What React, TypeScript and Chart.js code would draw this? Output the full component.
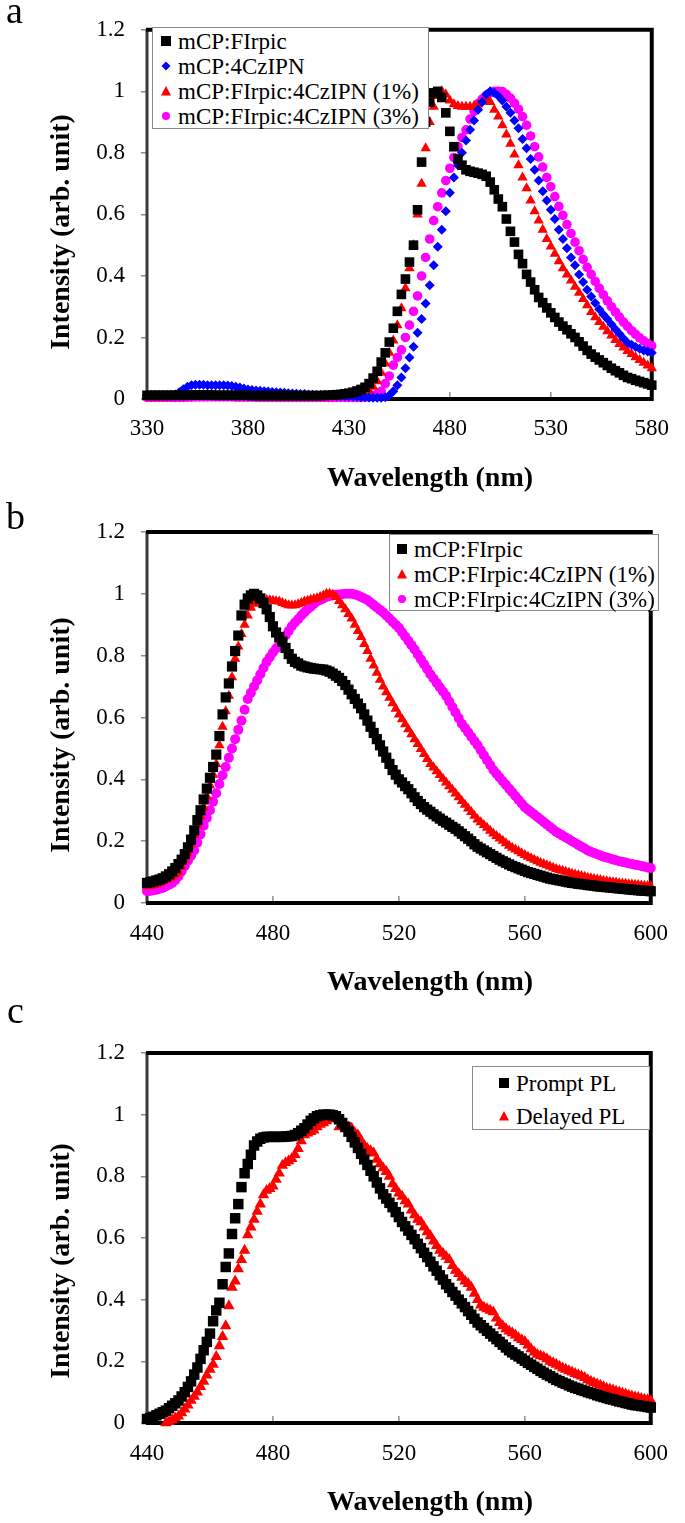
import React, { useEffect, useLayoutEffect, useRef } from 'react';
import { Chart, registerables } from 'chart.js';

Chart.register(...registerables);

const FONT = '"Liberation Serif", "Times New Roman", Times, serif';

// ---------- tick labels ----------
const Y_TICKS = [0, 0.2, 0.4, 0.6, 0.8, 1, 1.2];
const Y_TICK_LABELS = ['0', '0.2', '0.4', '0.6', '0.8', '1', '1.2'];
const X_TICKS_A = [330, 380, 430, 480, 530, 580];
const X_TICKS_BC = [440, 480, 520, 560, 600];

// ---------- wavelengths ----------
const WL_A = [
  330, 332, 334, 336, 338, 340, 342, 344, 346, 348,
  350, 352, 354, 356, 358, 360, 362, 364, 366, 368,
  370, 372, 374, 376, 378, 380, 382, 384, 386, 388,
  390, 392, 394, 396, 398, 400, 402, 404, 406, 408,
  410, 412, 414, 416, 418, 420, 422, 424, 426, 428,
  430, 432, 434, 436, 438, 440, 442, 444, 446, 448,
  450, 452, 454, 456, 458, 460, 462, 464, 466, 468,
  470, 472, 474, 476, 478, 480, 482, 484, 486, 488,
  490, 492, 494, 496, 498, 500, 502, 504, 506, 508,
  510, 512, 514, 516, 518, 520, 522, 524, 526, 528,
  530, 532, 534, 536, 538, 540, 542, 544, 546, 548,
  550, 552, 554, 556, 558, 560, 562, 564, 566, 568,
  570, 572, 574, 576, 578, 580,
];

const WL_BC = [
  440, 441, 442, 443, 444, 445, 446, 447, 448, 449,
  450, 451, 452, 453, 454, 455, 456, 457, 458, 459,
  460, 461, 462, 463, 464, 465, 466, 467, 468, 469,
  470, 471, 472, 473, 474, 475, 476, 477, 478, 479,
  480, 481, 482, 483, 484, 485, 486, 487, 488, 489,
  490, 491, 492, 493, 494, 495, 496, 497, 498, 499,
  500, 501, 502, 503, 504, 505, 506, 507, 508, 509,
  510, 511, 512, 513, 514, 515, 516, 517, 518, 519,
  520, 521, 522, 523, 524, 525, 526, 527, 528, 529,
  530, 531, 532, 533, 534, 535, 536, 537, 538, 539,
  540, 541, 542, 543, 544, 545, 546, 547, 548, 549,
  550, 551, 552, 553, 554, 555, 556, 557, 558, 559,
  560, 561, 562, 563, 564, 565, 566, 567, 568, 569,
  570, 571, 572, 573, 574, 575, 576, 577, 578, 579,
  580, 581, 582, 583, 584, 585, 586, 587, 588, 589,
  590, 591, 592, 593, 594, 595, 596, 597, 598, 599,
  600,
];

// ---------- panel a ----------
const A_FIRPIC = [
  0.012, 0.012, 0.012, 0.012, 0.012, 0.012, 0.012, 0.012, 0.012, 0.012,
  0.012, 0.013, 0.013, 0.013, 0.013, 0.013, 0.013, 0.012, 0.012, 0.012,
  0.012, 0.012, 0.012, 0.012, 0.012, 0.012, 0.011, 0.011, 0.011, 0.011,
  0.011, 0.011, 0.011, 0.011, 0.011, 0.011, 0.011, 0.011, 0.011, 0.011,
  0.011, 0.011, 0.011, 0.011, 0.012, 0.012, 0.013, 0.014, 0.015, 0.017,
  0.019, 0.022, 0.026, 0.031, 0.038, 0.050, 0.068, 0.090, 0.120, 0.150,
  0.185, 0.230, 0.285, 0.340, 0.390, 0.445, 0.500, 0.615, 0.770, 0.900,
  0.965, 0.995, 1.000, 0.980, 0.930, 0.870, 0.820, 0.780, 0.760, 0.745,
  0.740, 0.737, 0.734, 0.730, 0.724, 0.705, 0.680, 0.650, 0.625, 0.585,
  0.545, 0.510, 0.470, 0.440, 0.405, 0.380, 0.355, 0.330, 0.313, 0.296,
  0.280, 0.265, 0.250, 0.237, 0.225, 0.212, 0.200, 0.186, 0.172, 0.158,
  0.146, 0.136, 0.127, 0.118, 0.109, 0.100, 0.092, 0.085, 0.077, 0.070,
  0.066, 0.061, 0.057, 0.053, 0.049, 0.045,
];

const A_4CZIPN = [
  0.012, 0.012, 0.012, 0.012, 0.012, 0.012, 0.012, 0.015, 0.022, 0.032,
  0.040, 0.045, 0.046, 0.046, 0.046, 0.045, 0.045, 0.045, 0.045, 0.045,
  0.044, 0.042, 0.040, 0.037, 0.034, 0.031, 0.029, 0.028, 0.027, 0.025,
  0.024, 0.023, 0.022, 0.021, 0.020, 0.019, 0.018, 0.017, 0.016, 0.016,
  0.015, 0.014, 0.013, 0.013, 0.012, 0.011, 0.011, 0.010, 0.010, 0.009,
  0.008, 0.008, 0.007, 0.006, 0.006, 0.005, 0.004, 0.004, 0.004, 0.006,
  0.012, 0.025, 0.045, 0.070, 0.100, 0.135, 0.170, 0.215, 0.260, 0.310,
  0.370, 0.435, 0.495, 0.550, 0.610, 0.670, 0.720, 0.760, 0.800, 0.840,
  0.875, 0.905, 0.940, 0.965, 0.990, 1.000, 0.995, 0.985, 0.970, 0.950,
  0.930, 0.905, 0.880, 0.845, 0.815, 0.780, 0.745, 0.710, 0.675, 0.645,
  0.615, 0.585, 0.550, 0.520, 0.490, 0.460, 0.435, 0.405, 0.380, 0.355,
  0.333, 0.312, 0.292, 0.275, 0.260, 0.243, 0.227, 0.212, 0.197, 0.183,
  0.176, 0.169, 0.163, 0.158, 0.154, 0.150,
];

const A_1PCT = [
  0.006, 0.006, 0.006, 0.006, 0.006, 0.006, 0.007, 0.007, 0.008, 0.008,
  0.008, 0.009, 0.009, 0.009, 0.009, 0.009, 0.009, 0.009, 0.009, 0.009,
  0.009, 0.008, 0.008, 0.008, 0.008, 0.007, 0.007, 0.007, 0.007, 0.006,
  0.006, 0.006, 0.006, 0.006, 0.006, 0.006, 0.006, 0.006, 0.006, 0.006,
  0.006, 0.006, 0.006, 0.006, 0.006, 0.007, 0.007, 0.008, 0.009, 0.010,
  0.011, 0.012, 0.014, 0.017, 0.021, 0.028, 0.040, 0.058, 0.085, 0.115,
  0.150, 0.190, 0.240, 0.295, 0.360, 0.425, 0.500, 0.600, 0.700, 0.815,
  0.900, 0.950, 0.985, 1.000, 0.990, 0.970, 0.958, 0.952, 0.950, 0.950,
  0.950, 0.952, 0.957, 0.966, 0.977, 0.965, 0.940, 0.918, 0.890, 0.860,
  0.830, 0.795, 0.760, 0.720, 0.685, 0.645, 0.610, 0.580, 0.550, 0.520,
  0.496, 0.472, 0.448, 0.425, 0.405, 0.385, 0.365, 0.345, 0.325, 0.305,
  0.283, 0.266, 0.250, 0.235, 0.220, 0.206, 0.192, 0.179, 0.167, 0.156,
  0.146, 0.136, 0.127, 0.118, 0.109, 0.100,
];

const A_3PCT = [
  0.005, 0.005, 0.005, 0.005, 0.005, 0.005, 0.005, 0.005, 0.005, 0.005,
  0.006, 0.006, 0.007, 0.007, 0.007, 0.007, 0.007, 0.007, 0.007, 0.007,
  0.007, 0.007, 0.006, 0.006, 0.006, 0.006, 0.006, 0.005, 0.005, 0.005,
  0.005, 0.005, 0.005, 0.005, 0.005, 0.005, 0.005, 0.005, 0.005, 0.005,
  0.005, 0.005, 0.005, 0.005, 0.005, 0.005, 0.005, 0.005, 0.005, 0.005,
  0.005, 0.005, 0.005, 0.005, 0.006, 0.007, 0.010, 0.016, 0.025, 0.050,
  0.075, 0.110, 0.135, 0.160, 0.200, 0.240, 0.285, 0.335, 0.400, 0.460,
  0.520, 0.580, 0.625, 0.670, 0.710, 0.750, 0.785, 0.820, 0.850, 0.875,
  0.910, 0.935, 0.960, 0.975, 0.987, 0.995, 1.000, 1.000, 0.999, 0.990,
  0.978, 0.962, 0.942, 0.918, 0.890, 0.855, 0.820, 0.787, 0.754, 0.720,
  0.690, 0.658, 0.626, 0.597, 0.567, 0.538, 0.510, 0.482, 0.454, 0.428,
  0.405, 0.382, 0.360, 0.339, 0.319, 0.300, 0.283, 0.266, 0.250, 0.236,
  0.222, 0.210, 0.199, 0.189, 0.180, 0.173,
];

// ---------- panel b ----------
const B_FIRPIC = [
  0.065, 0.067, 0.070, 0.073, 0.076, 0.080, 0.086, 0.093, 0.102, 0.113,
  0.126, 0.140, 0.158, 0.180, 0.205, 0.235, 0.268, 0.300, 0.335, 0.370,
  0.405, 0.440, 0.480, 0.540, 0.610, 0.665, 0.710, 0.765, 0.815, 0.865,
  0.930, 0.965, 0.985, 0.995, 1.000, 0.995, 0.985, 0.970, 0.950, 0.925,
  0.895, 0.875, 0.860, 0.845, 0.825, 0.805, 0.790, 0.780, 0.775, 0.768,
  0.765, 0.762, 0.760, 0.758, 0.757, 0.756, 0.755, 0.752, 0.748, 0.742,
  0.735, 0.728, 0.718, 0.705, 0.690, 0.675, 0.660, 0.645, 0.630, 0.610,
  0.590, 0.570, 0.550, 0.530, 0.510, 0.490, 0.470, 0.450, 0.430, 0.415,
  0.400, 0.390, 0.378, 0.368, 0.355, 0.342, 0.330, 0.320, 0.310, 0.302,
  0.295, 0.287, 0.280, 0.273, 0.266, 0.260, 0.253, 0.246, 0.240, 0.232,
  0.224, 0.216, 0.208, 0.200, 0.190, 0.182, 0.176, 0.170, 0.164, 0.158,
  0.152, 0.146, 0.140, 0.135, 0.130, 0.125, 0.120, 0.116, 0.112, 0.108,
  0.104, 0.100, 0.097, 0.094, 0.091, 0.088, 0.085, 0.082, 0.079, 0.077,
  0.075, 0.073, 0.071, 0.069, 0.067, 0.065, 0.064, 0.062, 0.061, 0.060,
  0.058, 0.057, 0.056, 0.054, 0.053, 0.052, 0.051, 0.050, 0.049, 0.048,
  0.047, 0.046, 0.045, 0.044, 0.043, 0.042, 0.041, 0.040, 0.040, 0.039,
  0.038,
];

const B_1PCT = [
  0.054, 0.056, 0.058, 0.061, 0.065, 0.070, 0.074, 0.079, 0.085, 0.092,
  0.100, 0.118, 0.138, 0.160, 0.190, 0.220, 0.250, 0.280, 0.310, 0.345,
  0.380, 0.415, 0.450, 0.510, 0.570, 0.620, 0.670, 0.730, 0.790, 0.830,
  0.870, 0.900, 0.930, 0.955, 0.968, 0.975, 0.978, 0.980, 0.980, 0.979,
  0.978, 0.976, 0.975, 0.970, 0.966, 0.963, 0.962, 0.963, 0.966, 0.970,
  0.975, 0.978, 0.981, 0.983, 0.986, 0.990, 0.995, 1.000, 1.000, 0.998,
  0.990, 0.977, 0.963, 0.950, 0.935, 0.920, 0.900, 0.880, 0.860, 0.838,
  0.815, 0.790, 0.768, 0.745, 0.722, 0.700, 0.682, 0.664, 0.646, 0.628,
  0.610, 0.594, 0.578, 0.562, 0.546, 0.530, 0.514, 0.498, 0.482, 0.466,
  0.450, 0.438, 0.426, 0.414, 0.402, 0.390, 0.378, 0.366, 0.354, 0.342,
  0.330, 0.318, 0.306, 0.294, 0.282, 0.270, 0.261, 0.252, 0.243, 0.234,
  0.225, 0.217, 0.209, 0.201, 0.193, 0.185, 0.179, 0.173, 0.167, 0.161,
  0.155, 0.150, 0.145, 0.140, 0.135, 0.130, 0.126, 0.122, 0.118, 0.114,
  0.110, 0.107, 0.104, 0.101, 0.098, 0.095, 0.092, 0.090, 0.087, 0.085,
  0.082, 0.080, 0.078, 0.076, 0.074, 0.072, 0.070, 0.069, 0.067, 0.066,
  0.064, 0.063, 0.062, 0.061, 0.060, 0.059, 0.058, 0.057, 0.056, 0.055,
  0.054,
];

const B_3PCT = [
  0.038, 0.039, 0.041, 0.043, 0.046, 0.049, 0.054, 0.059, 0.065, 0.074,
  0.086, 0.102, 0.120, 0.137, 0.153, 0.170, 0.195, 0.222, 0.250, 0.275,
  0.300, 0.328, 0.355, 0.385, 0.413, 0.440, 0.470, 0.500, 0.530, 0.560,
  0.590, 0.625, 0.660, 0.680, 0.700, 0.720, 0.740, 0.760, 0.780, 0.795,
  0.810, 0.823, 0.837, 0.850, 0.865, 0.880, 0.895, 0.907, 0.918, 0.930,
  0.940, 0.950, 0.958, 0.967, 0.975, 0.980, 0.985, 0.990, 0.993, 0.995,
  0.997, 0.998, 0.999, 1.000, 1.000, 1.000, 0.998, 0.995, 0.990, 0.985,
  0.980, 0.972, 0.964, 0.956, 0.948, 0.940, 0.930, 0.920, 0.910, 0.900,
  0.890, 0.876, 0.862, 0.848, 0.834, 0.820, 0.804, 0.788, 0.772, 0.756,
  0.740, 0.726, 0.712, 0.698, 0.684, 0.670, 0.652, 0.634, 0.616, 0.598,
  0.580, 0.566, 0.552, 0.538, 0.524, 0.510, 0.494, 0.478, 0.462, 0.446,
  0.430, 0.418, 0.406, 0.394, 0.382, 0.370, 0.358, 0.346, 0.334, 0.322,
  0.310, 0.302, 0.294, 0.286, 0.278, 0.270, 0.262, 0.254, 0.246, 0.238,
  0.230, 0.224, 0.218, 0.212, 0.206, 0.200, 0.194, 0.188, 0.182, 0.176,
  0.170, 0.166, 0.162, 0.158, 0.154, 0.150, 0.147, 0.144, 0.141, 0.138,
  0.135, 0.133, 0.131, 0.128, 0.126, 0.124, 0.122, 0.120, 0.117, 0.115,
  0.113,
];

// ---------- panel c ----------
const C_PROMPT = [
  0.013, 0.016, 0.020, 0.025, 0.030, 0.035, 0.040, 0.048, 0.056, 0.064,
  0.073, 0.086, 0.100, 0.117, 0.135, 0.157, 0.180, 0.208, 0.236, 0.263,
  0.290, 0.330, 0.365, 0.390, 0.450, 0.506, 0.550, 0.613, 0.664, 0.710,
  0.765, 0.810, 0.840, 0.870, 0.900, 0.913, 0.922, 0.926, 0.928, 0.928,
  0.928, 0.928, 0.928, 0.928, 0.929, 0.930, 0.931, 0.934, 0.940, 0.948,
  0.956, 0.968, 0.980, 0.988, 0.995, 0.998, 1.000, 1.000, 1.000, 0.998,
  0.995, 0.985, 0.973, 0.960, 0.945, 0.928, 0.910, 0.892, 0.873, 0.855,
  0.837, 0.818, 0.800, 0.780, 0.761, 0.742, 0.728, 0.714, 0.700, 0.684,
  0.668, 0.652, 0.638, 0.624, 0.610, 0.596, 0.581, 0.567, 0.552, 0.538,
  0.523, 0.508, 0.494, 0.479, 0.465, 0.450, 0.438, 0.425, 0.413, 0.400,
  0.388, 0.376, 0.363, 0.351, 0.338, 0.326, 0.317, 0.308, 0.299, 0.290,
  0.281, 0.272, 0.263, 0.254, 0.245, 0.236, 0.229, 0.222, 0.216, 0.209,
  0.202, 0.195, 0.189, 0.182, 0.176, 0.169, 0.163, 0.157, 0.152, 0.146,
  0.140, 0.136, 0.131, 0.127, 0.122, 0.118, 0.114, 0.111, 0.107, 0.104,
  0.100, 0.097, 0.094, 0.090, 0.087, 0.084, 0.081, 0.078, 0.076, 0.073,
  0.070, 0.068, 0.065, 0.063, 0.060, 0.058, 0.057, 0.055, 0.054, 0.052,
  0.050,
];

const C_DELAYED = [
  null, null, null, null, null, null, 0.000, 0.004, 0.010, 0.016,
  0.022, 0.033, 0.045, 0.058, 0.073, 0.086, 0.100, 0.118, 0.135, 0.155,
  0.174, 0.190, 0.215, 0.250, 0.280, 0.315, 0.380, 0.440, 0.460, 0.500,
  0.530, 0.560, 0.610, 0.635, 0.660, 0.686, 0.710, 0.740, 0.754, 0.760,
  0.768, 0.790, 0.810, 0.835, 0.844, 0.850, 0.857, 0.870, 0.890, 0.915,
  0.934, 0.940, 0.945, 0.950, 0.960, 0.968, 0.973, 0.980, 0.990, 0.985,
  0.995, 0.960, 0.975, 0.966, 0.960, 0.956, 0.940, 0.934, 0.915, 0.900,
  0.890, 0.883, 0.875, 0.855, 0.840, 0.827, 0.815, 0.800, 0.775, 0.760,
  0.745, 0.735, 0.720, 0.710, 0.690, 0.675, 0.660, 0.652, 0.635, 0.620,
  0.607, 0.590, 0.575, 0.560, 0.550, 0.540, 0.530, 0.510, 0.495, 0.484,
  0.472, 0.460, 0.452, 0.440, 0.420, 0.400, 0.382, 0.375, 0.370, 0.365,
  0.360, 0.340, 0.325, 0.315, 0.305, 0.298, 0.292, 0.285, 0.276, 0.270,
  0.264, 0.252, 0.240, 0.230, 0.222, 0.218, 0.214, 0.208, 0.200, 0.195,
  0.190, 0.184, 0.178, 0.174, 0.169, 0.165, 0.160, 0.156, 0.152, 0.147,
  0.140, 0.135, 0.130, 0.126, 0.122, 0.117, 0.112, 0.110, 0.107, 0.103,
  0.100, 0.097, 0.094, 0.090, 0.087, 0.084, 0.082, 0.079, 0.077, 0.075,
  0.073,
];

// ---------- styles ----------
const BLACK = '#000000';
const BLUE = '#0000ff';
const RED = '#ff0000';
const MAGENTA = '#ff00ff';

type SeriesDef = { label: string; values: (number | null)[]; color: string; style: string; radius: number };
type Marker = 'square' | 'diamond' | 'triangle' | 'circle';

type PanelDef = {
  top: number;
  height: number;
  padRight: number;
  padTop: number;
  xAxisHeight: number;
  xMin: number;
  xMax: number;
  xTicks: number[];
  wl: number[];
  tickPadX: number;
  series: SeriesDef[];
};

const PANELS: PanelDef[] = [
  {
    top: 0, height: 500, padRight: 21, padTop: 26, xAxisHeight: 101,
    xMin: 330, xMax: 580, xTicks: X_TICKS_A, wl: WL_A, tickPadX: 16,
    series: [
      { label: 'mCP:FIrpic', values: A_FIRPIC, color: BLACK, style: 'rect', radius: 6.8 },
      { label: 'mCP:4CzIPN', values: A_4CZIPN, color: BLUE, style: 'rectRot', radius: 5 },
      { label: 'mCP:FIrpic:4CzIPN (1%)', values: A_1PCT, color: RED, style: 'triangle', radius: 6 },
      { label: 'mCP:FIrpic:4CzIPN (3%)', values: A_3PCT, color: MAGENTA, style: 'circle', radius: 4.8 },
    ],
  },
  {
    top: 500, height: 500, padRight: 27, padTop: 32, xAxisHeight: 97,
    xMin: 440, xMax: 600, xTicks: X_TICKS_BC, wl: WL_BC, tickPadX: 17,
    series: [
      { label: 'mCP:FIrpic', values: B_FIRPIC, color: BLACK, style: 'rect', radius: 7.2 },
      { label: 'mCP:FIrpic:4CzIPN (1%)', values: B_1PCT, color: RED, style: 'triangle', radius: 6 },
      { label: 'mCP:FIrpic:4CzIPN (3%)', values: B_3PCT, color: MAGENTA, style: 'circle', radius: 5 },
    ],
  },
  {
    top: 1000, height: 523, padRight: 20, padTop: 53, xAxisHeight: 100,
    xMin: 440, xMax: 600, xTicks: X_TICKS_BC, wl: WL_BC, tickPadX: 17,
    series: [
      { label: 'Prompt PL', values: C_PROMPT, color: BLACK, style: 'rect', radius: 7.4 },
      { label: 'Delayed PL', values: C_DELAYED, color: RED, style: 'triangle', radius: 6.6 },
    ],
  },
];

const framePlugin = {
  id: 'frame',
  beforeDatasetsDraw(chart: any, _args: any, opts: any) {
    const { ctx, chartArea } = chart;
    const { left, top, right, bottom } = chartArea;
    const xs = chart.scales.x;
    ctx.save();
    ctx.strokeStyle = '#8c8c8c';
    ctx.lineWidth = 1.5;
    for (const v of opts.xTicks || []) {
      const px = xs.getPixelForValue(v);
      ctx.beginPath();
      ctx.moveTo(px, bottom);
      ctx.lineTo(px, bottom - 7);
      ctx.stroke();
    }
    ctx.strokeStyle = '#3a3a3a';
    ctx.lineWidth = 3;
    ctx.beginPath();
    ctx.moveTo(left, top);
    ctx.lineTo(left, bottom);
    ctx.stroke();
    ctx.strokeStyle = '#000';
    ctx.lineWidth = 4;
    ctx.beginPath();
    ctx.moveTo(left - 1, top);
    ctx.lineTo(right, top);
    ctx.lineTo(right, bottom);
    ctx.lineTo(left - 1, bottom);
    ctx.stroke();
    ctx.restore();
  },
};

function PanelChart({ def }: { def: PanelDef }) {
  const ref = useRef<HTMLCanvasElement | null>(null);
  useEffect(() => {
    const canvas = ref.current;
    if (!canvas) return;
    const tickFont = { family: FONT, size: 23, weight: 'normal' as const };
    const chart = new Chart(canvas, {
      type: 'scatter',
      data: {
        datasets: def.series.map((s) => ({
          label: s.label,
          data: def.wl.map((w, i) => ({ x: w, y: s.values[i] as any })),
          pointStyle: s.style as any,
          pointRadius: s.radius,
          pointHoverRadius: s.radius,
          backgroundColor: s.color,
          borderColor: s.color,
          borderWidth: 0,
          pointBorderWidth: 0,
          showLine: false,
          clip: false as any,
        })),
      },
      options: {
        responsive: false,
        maintainAspectRatio: false,
        animation: false,
        events: [],
        layout: { padding: { left: 0, right: def.padRight, top: def.padTop, bottom: 0 } },
        plugins: {
          legend: { display: false },
          tooltip: { enabled: false },
          title: { display: false },
          frame: { xTicks: def.xTicks },
        } as any,
        scales: {
          x: {
            type: 'linear',
            min: def.xMin,
            max: def.xMax,
            afterBuildTicks: (s: any) => {
              s.ticks = def.xTicks.map((v) => ({ value: v }));
            },
            afterFit: (s: any) => {
              s.height = def.xAxisHeight;
            },
            grid: { display: false, drawTicks: false, tickLength: 0 },
            border: { display: false },
            ticks: {
              color: '#000',
              font: tickFont,
              padding: def.tickPadX,
              maxRotation: 0,
              autoSkip: false,
              callback: (_v: any, i: number) => String(def.xTicks[i]),
            },
            title: { display: false },
          },
          y: {
            type: 'linear',
            min: 0,
            max: 1.2,
            afterBuildTicks: (s: any) => {
              s.ticks = Y_TICKS.map((v) => ({ value: v }));
            },
            afterFit: (s: any) => {
              s.width = 147;
            },
            grid: {
              display: true,
              drawOnChartArea: false,
              drawTicks: true,
              tickLength: 6,
              color: '#8c8c8c',
              lineWidth: 1.5,
            },
            border: { display: false },
            ticks: {
              color: '#000',
              font: tickFont,
              padding: 16,
              autoSkip: false,
              callback: (_v: any, i: number) => Y_TICK_LABELS[i],
            },
            title: { display: false },
          },
        } as any,
      },
      plugins: [framePlugin as any],
    });
    return () => chart.destroy();
  }, [def]);
  return (
    <canvas
      ref={ref}
      width={685}
      height={def.height}
      style={{ position: 'absolute', left: 0, top: def.top, width: 685, height: def.height, display: 'block' }}
    />
  );
}

function MarkerIcon({ kind, color }: { kind: Marker; color: string }) {
  let shape: React.ReactNode = null;
  if (kind === 'square') shape = <rect x={1} y={1} width={10} height={10} fill={color} />;
  if (kind === 'diamond') shape = <polygon points="6,1.5 10.5,6 6,10.5 1.5,6" fill={color} />;
  if (kind === 'triangle') shape = <polygon points="6,1 11,10.5 1,10.5" fill={color} />;
  if (kind === 'circle') shape = <circle cx={6} cy={6} r={4} fill={color} />;
  return (
    <svg width={12} height={12} style={{ position: 'absolute', left: -6, top: 6.5 }}>
      {shape}
    </svg>
  );
}

type LegendItem = { label: string; kind: Marker; color: string };
type LegendDef = {
  left: number; top: number; width: number; height: number;
  rowTop: number; rowGap: number; markerX: number; textX: number;
  items: LegendItem[];
};

const LEGENDS: LegendDef[] = [
  {
    left: 152, top: 27, width: 277, height: 102, rowTop: 13, rowGap: 25, markerX: 13, textX: 25,
    items: [
      { label: 'mCP:FIrpic', kind: 'square', color: BLACK },
      { label: 'mCP:4CzIPN', kind: 'diamond', color: BLUE },
      { label: 'mCP:FIrpic:4CzIPN (1%)', kind: 'triangle', color: RED },
      { label: 'mCP:FIrpic:4CzIPN (3%)', kind: 'circle', color: MAGENTA },
    ],
  },
  {
    left: 389, top: 534, width: 270, height: 77, rowTop: 14, rowGap: 25, markerX: 12, textX: 24,
    items: [
      { label: 'mCP:FIrpic', kind: 'square', color: BLACK },
      { label: 'mCP:FIrpic:4CzIPN (1%)', kind: 'triangle', color: RED },
      { label: 'mCP:FIrpic:4CzIPN (3%)', kind: 'circle', color: MAGENTA },
    ],
  },
  {
    left: 472, top: 1066, width: 178, height: 64, rowTop: 16, rowGap: 33, markerX: 31, textX: 43,
    items: [
      { label: 'Prompt PL', kind: 'square', color: BLACK },
      { label: 'Delayed PL', kind: 'triangle', color: RED },
    ],
  },
];

function Legend({ def }: { def: LegendDef }) {
  return (
    <div
      style={{
        position: 'absolute', left: def.left, top: def.top, width: def.width, height: def.height,
        boxSizing: 'border-box', border: '1px solid #8a8a8a', background: '#fff', zIndex: 2,
      }}
    >
      {def.items.map((it, i) => (
        <div key={i} style={{ position: 'absolute', left: 0, top: def.rowTop + i * def.rowGap - 12.5, height: 25, width: '100%' }}>
          <div style={{ position: 'absolute', left: def.markerX, top: 0, width: 0, height: 25 }}>
            <MarkerIcon kind={it.kind} color={it.color} />
          </div>
          <span
            style={{
              position: 'absolute', left: def.textX, top: 0, lineHeight: '25px', fontSize: 23,
              whiteSpace: 'nowrap', color: '#000', fontFamily: FONT,
            }}
          >
            {it.label}
          </span>
        </div>
      ))}
    </div>
  );
}

const PANEL_LETTERS = [
  { text: 'a', left: 6, baseline: 23 },
  { text: 'b', left: 6, baseline: 529 },
  { text: 'c', left: 7, baseline: 1023 },
];

const X_TITLES = [
  { text: 'Wavelength (nm)', cx: 430, cy: 477 },
  { text: 'Wavelength (nm)', cx: 430, cy: 981 },
  { text: 'Wavelength (nm)', cx: 430, cy: 1501 },
];

const Y_TITLES = [
  { text: 'Intensity (arb. unit)', cx: 60, cy: 232 },
  { text: 'Intensity (arb. unit)', cx: 60, cy: 735 },
  { text: 'Intensity (arb. unit)', cx: 60, cy: 1261 },
];

export default function App() {
  useLayoutEffect(() => {
    document.body.style.margin = '0';
    document.body.style.background = '#fff';
  }, []);
  return (
    <div style={{ position: 'relative', width: 685, height: 1523, background: '#fff', overflow: 'hidden', fontFamily: FONT }}>
      {PANELS.map((p, i) => (
        <PanelChart key={i} def={p} />
      ))}
      {LEGENDS.map((l, i) => (
        <Legend key={i} def={l} />
      ))}
      {PANEL_LETTERS.map((l, i) => (
        <div
          key={i}
          style={{
            position: 'absolute', left: l.left, top: l.baseline - 32, fontSize: 38, lineHeight: '38px',
            fontFamily: FONT, color: '#000',
          }}
        >
          {l.text}
        </div>
      ))}
      {X_TITLES.map((t, i) => (
        <div
          key={i}
          style={{
            position: 'absolute', left: t.cx - 200, top: t.cy - 16, width: 400, height: 32, lineHeight: '32px',
            textAlign: 'center', fontSize: 28, fontWeight: 'bold', fontFamily: FONT, color: '#000', zIndex: 3,
          }}
        >
          {t.text}
        </div>
      ))}
      {Y_TITLES.map((t, i) => (
        <div
          key={i}
          style={{
            position: 'absolute', left: t.cx - 150, top: t.cy - 16, width: 300, height: 32, lineHeight: '32px',
            textAlign: 'center', fontSize: 28, fontWeight: 'bold', fontFamily: FONT, color: '#000',
            transform: 'rotate(-90deg)', zIndex: 3, whiteSpace: 'nowrap',
          }}
        >
          {t.text}
        </div>
      ))}
    </div>
  );
}
